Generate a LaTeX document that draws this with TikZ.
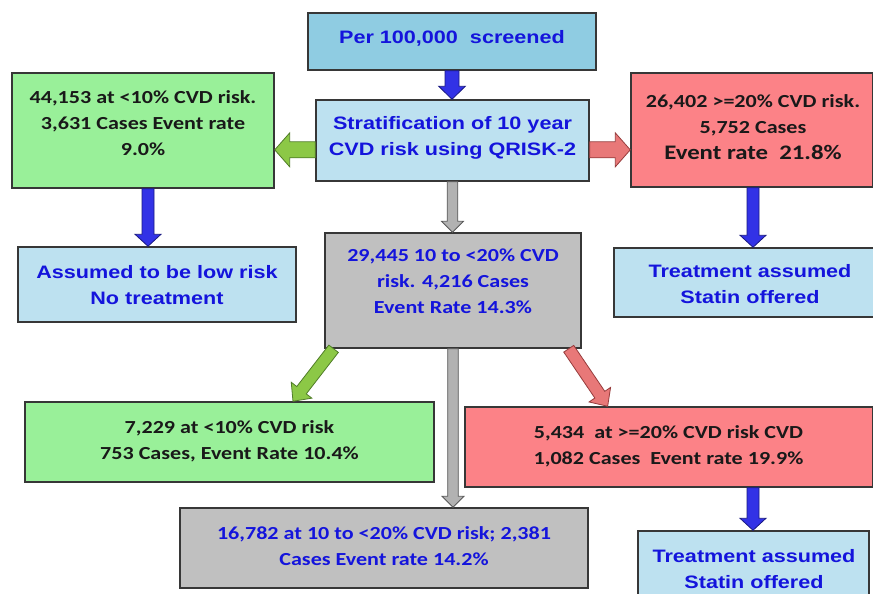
\documentclass[tikz,border=0pt]{standalone}
\usepackage{fontspec}
\usetikzlibrary{calc}
\newfontfamily\arialf{Liberation Sans}[FakeStretch=1.2]
\newfontfamily\calif{Carlito}[FakeStretch=1.2]
\definecolor{topblue}{RGB}{143,204,226}
\definecolor{lblue}{RGB}{189,225,240}
\definecolor{boxgreen}{RGB}{153,240,153}
\definecolor{boxred}{RGB}{252,130,135}
\definecolor{boxgray}{RGB}{192,192,192}
\definecolor{tblue}{RGB}{20,20,220}
\definecolor{tblack}{RGB}{25,25,25}
\definecolor{bordergray}{RGB}{55,55,55}
\definecolor{arblue}{RGB}{50,50,230}
\definecolor{arblueD}{RGB}{25,25,130}
\definecolor{argreen}{RGB}{140,200,70}
\definecolor{argreenD}{RGB}{80,125,40}
\definecolor{arred}{RGB}{232,120,120}
\definecolor{arredD}{RGB}{150,60,60}
\definecolor{argray}{RGB}{178,178,178}
\definecolor{argrayD}{RGB}{90,90,90}
% #1 style, #2 start, #3 end, #4 half shaft, #5 half head, #6 head length
\newcommand\barrowdraw[6]{%
  \coordinate (bah) at ($(#3)!#6!(#2)$);
  \filldraw[#1] ($(#2)!#4!90:(#3)$) -- ($(bah)!#4!90:(#3)$) -- ($(bah)!#5!90:(#3)$)
    -- (#3) -- ($(bah)!#5!-90:(#3)$) -- ($(bah)!#4!-90:(#3)$) -- ($(#2)!#4!-90:(#3)$) -- cycle;}
\begin{document}
\begin{tikzpicture}[x=0.75pt,y=-0.75pt,
  box/.style={draw=bordergray, line width=1.1pt, inner sep=0pt},
  arialtxt/.style={font=\arialf\bfseries\fontsize{13.5}{19.5}\selectfont, text=tblue, align=center},
  calitxt/.style={font=\calif\bfseries\fontsize{13.8}{19.5}\selectfont, text=tblack, align=center},
  calibtxt/.style={calitxt, text=tblue},
  blueA/.style={fill=arblue, draw=arblueD, line width=0.6pt},
  greenA/.style={fill=argreen, draw=argreenD, line width=0.6pt},
  redA/.style={fill=arred, draw=arredD, line width=0.6pt},
  grayA/.style={fill=argray, draw=argrayD, line width=0.6pt}]
\useasboundingbox (0,0) rectangle (873,593);
\clip (0,0) rectangle (873,593);
\fill[white] (0,0) rectangle (873,593);

% boxes
\node[box, fill=topblue, minimum width=216pt, minimum height=42.75pt] (top) at (452,41.5) {};
\node[arialtxt] (top-t) at (452,38.5) {Per 100,000\ \ screened};

\node[box, fill=lblue, minimum width=204.75pt, minimum height=60.75pt] (strat) at (452.5,140.5) {};
\node[arialtxt] (strat-t) at (452.5,138) {Stratification of 10 year\\CVD risk using QRISK-2};

\node[box, fill=boxgreen, minimum width=196.5pt, minimum height=86.25pt] (gl) at (143,130.5) {};
\node[calitxt] (gl-t) at (143,123) {44,153 at <10\% CVD risk.\\3,631 Cases Event rate\\9.0\%};

\node[box, fill=boxred, minimum width=181.5pt, minimum height=85.5pt] (rr) at (752,130) {};
\node[calitxt] (rr-t) at (753,127) {26,402 >=20\% CVD risk.\\5,752 Cases\\{\fontsize{15.5}{20}\selectfont Event rate\ \ 21.8\%}};

\node[box, fill=lblue, minimum width=208.5pt, minimum height=56.25pt] (low) at (157,284.5) {};
\node[arialtxt] (low-t) at (157,285) {Assumed to be low risk\\No treatment};

\node[box, fill=boxgray, minimum width=192pt, minimum height=86.25pt] (gm) at (453,290.5) {};
\node[calibtxt] (gm-t) at (453,281) {29,445 10 to <20\% CVD\\risk. 4,216 Cases\\Event Rate 14.3\%};

\node[box, fill=lblue, minimum width=204pt, minimum height=51.75pt] (treat1) at (750,282.5) {};
\node[arialtxt] (treat1-t) at (750,284) {Treatment assumed\\Statin offered};

\node[box, fill=boxgreen, minimum width=306.75pt, minimum height=60pt] (gb) at (229.5,442) {};
\node[calitxt] (gb-t) at (229.5,441) {7,229 at <10\% CVD risk\\753 Cases, Event Rate 10.4\%};

\node[box, fill=boxred, minimum width=306pt, minimum height=60pt] (rb) at (669,447) {};
\node[calitxt] (rb-t) at (668.5,446) {5,434\ \ at >=20\% CVD risk CVD\\1,082 Cases\ \ Event rate 19.9\%};

\node[box, fill=boxgray, minimum width=306pt, minimum height=60pt] (gy) at (384,548) {};
\node[calibtxt] (gy-t) at (384,546) {16,782 at 10 to <20\% CVD risk; 2,381\\Cases Event rate 14.2\%};

\node[box, fill=lblue, minimum width=173.25pt, minimum height=55.5pt] (treat2) at (753.5,568) {};
\node[arialtxt] (treat2-t) at (754,569) {Treatment assumed\\Statin offered};

% arrows
\coordinate (s1) at (top.south);
\coordinate (e1) at (s1 |- strat.north);
\barrowdraw{blueA}{s1}{e1}{5.25pt}{10pt}{9.75pt}

\coordinate (s2) at ([yshift=-7pt]strat.west);
\coordinate (e2) at (gl.east |- s2);
\barrowdraw{greenA}{s2}{e2}{6pt}{12.75pt}{11.25pt}

\coordinate (s3) at ([yshift=-7pt]strat.east);
\coordinate (e3) at (rr.west |- s3);
\barrowdraw{redA}{s3}{e3}{6pt}{12.75pt}{11.25pt}

\coordinate (s4) at (strat.south);
\coordinate (e4) at (s4 |- gm.north);
\barrowdraw{grayA}{s4}{e4}{4pt}{8.25pt}{8.25pt}

\coordinate (s5) at ([xshift=3.75pt]gl.south);
\coordinate (e5) at (s5 |- low.north);
\barrowdraw{blueA}{s5}{e5}{4.5pt}{9.75pt}{9pt}

\coordinate (s6) at ([xshift=0.75pt]rr.south);
\coordinate (e6) at (s6 |- treat1.north);
\barrowdraw{blueA}{s6}{e6}{4.5pt}{9.75pt}{9pt}

\coordinate (s7) at ([xshift=7pt]gm.south west);
\coordinate (e7) at ([xshift=47.6pt]gb.north);
\barrowdraw{greenA}{s7}{e7}{4.5pt}{9.75pt}{10.5pt}

\coordinate (s8) at ([xshift=-9.75pt]gm.south east);
\coordinate (e8) at ([xshift=-46pt]rb.north);
\barrowdraw{redA}{s8}{e8}{4.5pt}{9.75pt}{10.5pt}

\coordinate (s9) at (gm.south);
\coordinate (e9) at (s9 |- gy.north);
\barrowdraw{grayA}{s9}{e9}{4pt}{8.25pt}{8.25pt}

\coordinate (s10) at ([xshift=63pt]rb.south);
\coordinate (e10) at (s10 |- treat2.north);
\barrowdraw{blueA}{s10}{e10}{4.5pt}{9.75pt}{9pt}
\end{tikzpicture}
\end{document}
